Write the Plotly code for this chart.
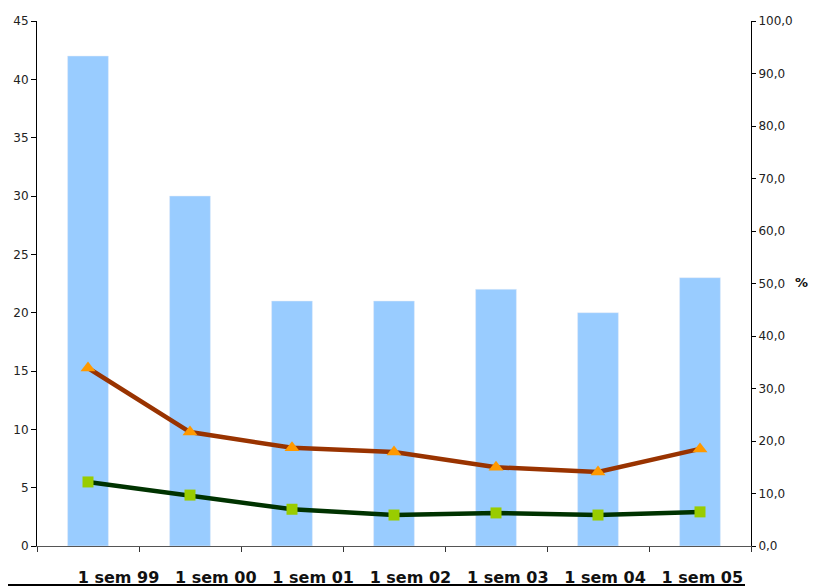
import plotly.graph_objects as go

categories = ["1 sem 99", "1 sem 00", "1 sem 01", "1 sem 02", "1 sem 03", "1 sem 04", "1 sem 05"]
bar_values = [42, 30, 21, 21, 22, 20, 23]
orange_pct = [33.9, 21.7, 18.7, 17.9, 15.0, 14.1, 18.5]
green_pct = [12.2, 9.7, 7.0, 5.9, 6.3, 5.9, 6.5]
left_ticks = [0, 5, 10, 15, 20, 25, 30, 35, 40, 45]
right_ticks = [0, 10, 20, 30, 40, 50, 60, 70, 80, 90, 100]

fig = go.Figure()
fig.add_trace(go.Bar(x=categories, y=bar_values, marker_color="#99CCFF",
                     width=0.4, showlegend=False, xaxis="x", yaxis="y"))
fig.add_trace(go.Scatter(x=categories, y=orange_pct, xaxis="x", yaxis="y2",
                         mode="lines+markers",
                         line=dict(color="#993300", width=4.5),
                         marker=dict(symbol="triangle-up", size=13, color="#FF9900"),
                         showlegend=False))
fig.add_trace(go.Scatter(x=categories, y=green_pct, xaxis="x", yaxis="y2",
                         mode="lines+markers",
                         line=dict(color="#003300", width=4.5),
                         marker=dict(symbol="square", size=11, color="#99CC00"),
                         showlegend=False))
# empty carrier trace so the category-label axis is drawn (no visible marks)
fig.add_trace(go.Scatter(x=list(range(len(categories))), y=[None] * len(categories),
                         xaxis="x3", yaxis="y3", mode="markers", showlegend=False,
                         hoverinfo="skip"))

tick_font = dict(family="DejaVu Sans", size=12, color="#222222")

# page body has an 8px margin, so the figure is sized/margined to compensate
fig.update_layout(
    width=810, height=580,
    margin=dict(l=29, r=67, t=13, b=42),
    plot_bgcolor="rgba(0,0,0,0)", paper_bgcolor="white",
    separators=",.",
    xaxis=dict(type="category", range=[-0.5, 6.5], showline=True, linecolor="#555555",
               linewidth=1, ticks="outside", tickson="boundaries", ticklen=5,
               tickcolor="#333333", showticklabels=False, showgrid=False, zeroline=False,
               automargin=False),
    xaxis3=dict(type="linear", range=[-0.5, 6.5], domain=[0.046, 1], anchor="y3",
                tickvals=list(range(len(categories))), ticktext=categories,
                ticks="outside", ticklen=17, tickcolor="rgba(0,0,0,0)",
                showline=False, showgrid=False, zeroline=False, automargin=False,
                tickfont=dict(family="DejaVu Sans", size=16, color="#111111", weight="bold")),
    yaxis3=dict(domain=[0, 1], anchor="x3", range=[0, 1], visible=False),
    yaxis=dict(range=[0, 45], tickvals=left_ticks, showline=True, linecolor="black",
               linewidth=1, ticks="outside", ticklen=5, tickcolor="black",
               showgrid=False, zeroline=False, tickfont=tick_font, automargin=False),
    yaxis2=dict(range=[0, 100], tickvals=right_ticks, tickformat=".1f", overlaying="y",
                side="right", anchor="x", showline=True, linecolor="black", linewidth=1,
                ticks="outside", ticklen=4, tickcolor="black", showgrid=False,
                zeroline=False, tickfont=tick_font, automargin=False),
    annotations=[dict(text="<b>%</b>", xref="paper", yref="paper", x=1.082, y=0.501,
                      showarrow=False, textangle=0,
                      font=dict(family="DejaVu Sans", size=13, color="#111111"))],
    shapes=[dict(type="line", xref="paper", yref="paper", x0=-0.041, x1=0.9916,
                 y0=-0.0743, y1=-0.0743, line=dict(color="black", width=2))],
)

fig.write_html("out.html")
